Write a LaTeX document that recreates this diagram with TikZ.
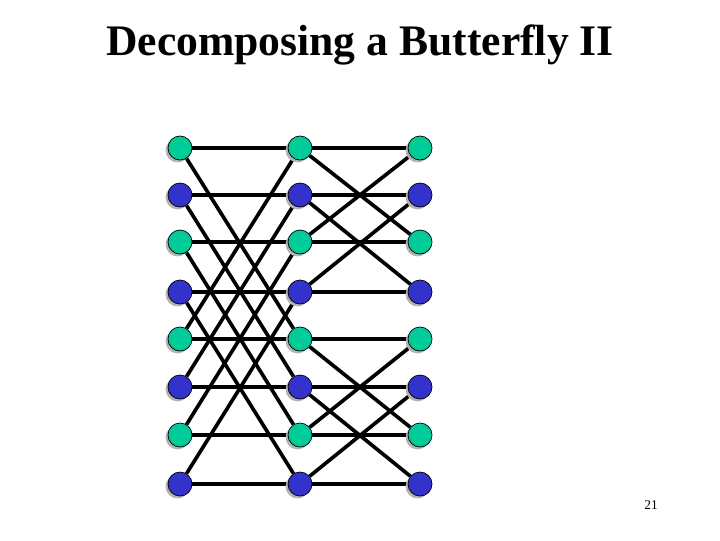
\documentclass[tikz,border=0pt]{standalone}
\usepackage{fontspec}
\setmainfont{Liberation Serif}
\usepackage{xcolor}
\usetikzlibrary{shadows, backgrounds}

\definecolor{bfgreen}{RGB}{0,204,153}
\definecolor{bfblue}{RGB}{51,51,204}

\begin{document}
\begin{tikzpicture}[
        x=0.025cm, y=-0.025cm,
        vert/.style={circle, draw=black, line width=0.5pt, minimum size=0.6cm, inner sep=0pt,
            drop shadow={shadow xshift=-0.06cm, shadow yshift=-0.06cm, fill=gray!60, opacity=1}},
        even/.style={vert, fill=bfgreen},
        odd/.style={vert, fill=bfblue},
        wire/.style={line width=2.6pt, black}
    ]
        \useasboundingbox (0,0) rectangle (720,540);

        \node[font=\bfseries\fontsize{31}{36}\selectfont] (title) at (360,45) {Decomposing a Butterfly II};
        \node[font=\fontsize{9.5}{11}\selectfont] (page) at (651,505) {21};

        % three columns of eight vertices
        \foreach \col/\x in {a/180, b/300, c/420} {
            \foreach \i/\y in {0/148, 1/195, 2/242, 3/292, 4/339, 5/387, 6/435, 7/484} {
                \pgfmathtruncatemacro{\parity}{mod(\i,2)}
                \ifnum\parity=0
                    \node[even] (\col\i) at (\x,\y) {};
                \else
                    \node[odd] (\col\i) at (\x,\y) {};
                \fi
            }
        }

        \begin{pgfonlayer}{background}
            % first stage: straight and span 4
            \foreach \i in {0,...,7} {
                \pgfmathtruncatemacro{\j}{mod(\i+4,8)}
                \draw[wire] (a\i) -- (b\i);
                \draw[wire] (a\i) -- (b\j);
            }
            % second stage: straight and span 2
            \foreach \i in {0,...,7} {
                \pgfmathtruncatemacro{\k}{mod(\i,4) < 2 ? \i+2 : \i-2}
                \draw[wire] (b\i) -- (c\i);
                \draw[wire] (b\i) -- (c\k);
            }
        \end{pgfonlayer}
    \end{tikzpicture}
\end{document}
